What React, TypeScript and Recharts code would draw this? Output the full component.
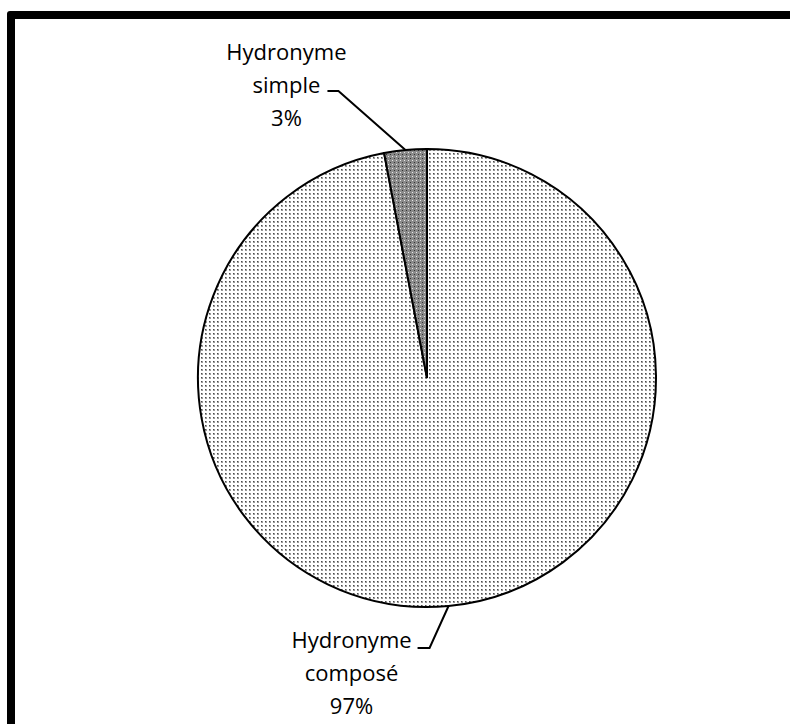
import { PieChart, Pie, Cell } from 'recharts'

const CATEGORIES = ['Hydronyme composé', 'Hydronyme simple']
const LABEL_LINES = [['Hydronyme', 'composé'], ['Hydronyme', 'simple']]
const VALUES = [97, 3]

const data = CATEGORIES.map((name, i) => ({ name, value: VALUES[i], lines: LABEL_LINES[i] }))

const FILLS = ['url(#dotsLight)', 'url(#dotsDark)']
const RAD = Math.PI / 180
const FONT = '"Open Sans", sans-serif'

// leader elbow offset from the slice edge, text centre offset from the leader end,
// baseline of the first line relative to the leader, line gap
const LABEL_LAYOUT = [
  { elbow: [-19, 42], tail: -12, textDx: -66, firstDy: 0 },
  { elbow: [-67, -59], tail: -11, textDx: -41, firstDy: -31 },
]
const LINE_GAP = 33

function renderLabel(props: any) {
  const { cx, cy, midAngle, outerRadius, index, percent, payload } = props
  const lay = LABEL_LAYOUT[index]
  const px = cx + outerRadius * Math.cos(-midAngle * RAD)
  const py = cy + outerRadius * Math.sin(-midAngle * RAD)
  const ex = px + lay.elbow[0]
  const ey = py + lay.elbow[1]
  const tx = ex + lay.tail
  const lines = [...(payload.lines ?? data[index].lines), `${Math.round(percent * 100)}%`]
  return (
    <g key={`lbl-${index}`}>
      <polyline points={`${px},${py} ${ex},${ey} ${tx},${ey}`} fill="none" stroke="#000" strokeWidth={2} />
      <text x={tx + lay.textDx} y={ey + lay.firstDy} textAnchor="middle" fontFamily={FONT} fontSize={22} fill="#000">
        {lines.map((l, i) => (
          <tspan key={i} x={tx + lay.textDx} y={ey + lay.firstDy + i * LINE_GAP}>{l}</tspan>
        ))}
      </text>
    </g>
  )
}

export default function App() {
  return (
    <div style={{ position: 'absolute', left: 0, top: 0, width: 790, height: 724, overflow: 'hidden', background: '#fff' }}>
      <div style={{ position: 'absolute', left: 7, top: 11, width: 900, height: 900, border: '8px solid #000', borderRadius: 3 }} />
      <div style={{ position: 'absolute', left: 0, top: 0 }}>
        <PieChart width={790} height={724} margin={{ top: 0, right: 0, bottom: 0, left: 0 }}>
          <defs>
            <pattern id="dotsLight" width={4} height={4} patternUnits="userSpaceOnUse">
              <rect width={4} height={4} fill="#fff" />
              <rect x={1} y={1} width={2} height={2} fill="#9a9a9a" />
              <rect x={1} y={1} width={1} height={1} fill="#4a4a4a" />
            </pattern>
            <pattern id="dotsDark" width={4} height={4} patternUnits="userSpaceOnUse">
              <rect width={4} height={4} fill="#8a8a8a" />
              <rect x={0} y={0} width={1} height={1} fill="#e8e8e8" />
              <rect x={2} y={2} width={1} height={1} fill="#333" />
            </pattern>
          </defs>
          <Pie
            data={data}
            dataKey="value"
            nameKey="name"
            cx={427}
            cy={378}
            outerRadius={229}
            startAngle={90}
            endAngle={-270}
            stroke="#000"
            strokeWidth={2}
            label={renderLabel}
            labelLine={false}
            isAnimationActive={false}
          >
            {data.map((d, i) => (
              <Cell key={d.name} fill={FILLS[i]} />
            ))}
          </Pie>
        </PieChart>
      </div>
    </div>
  )
}
